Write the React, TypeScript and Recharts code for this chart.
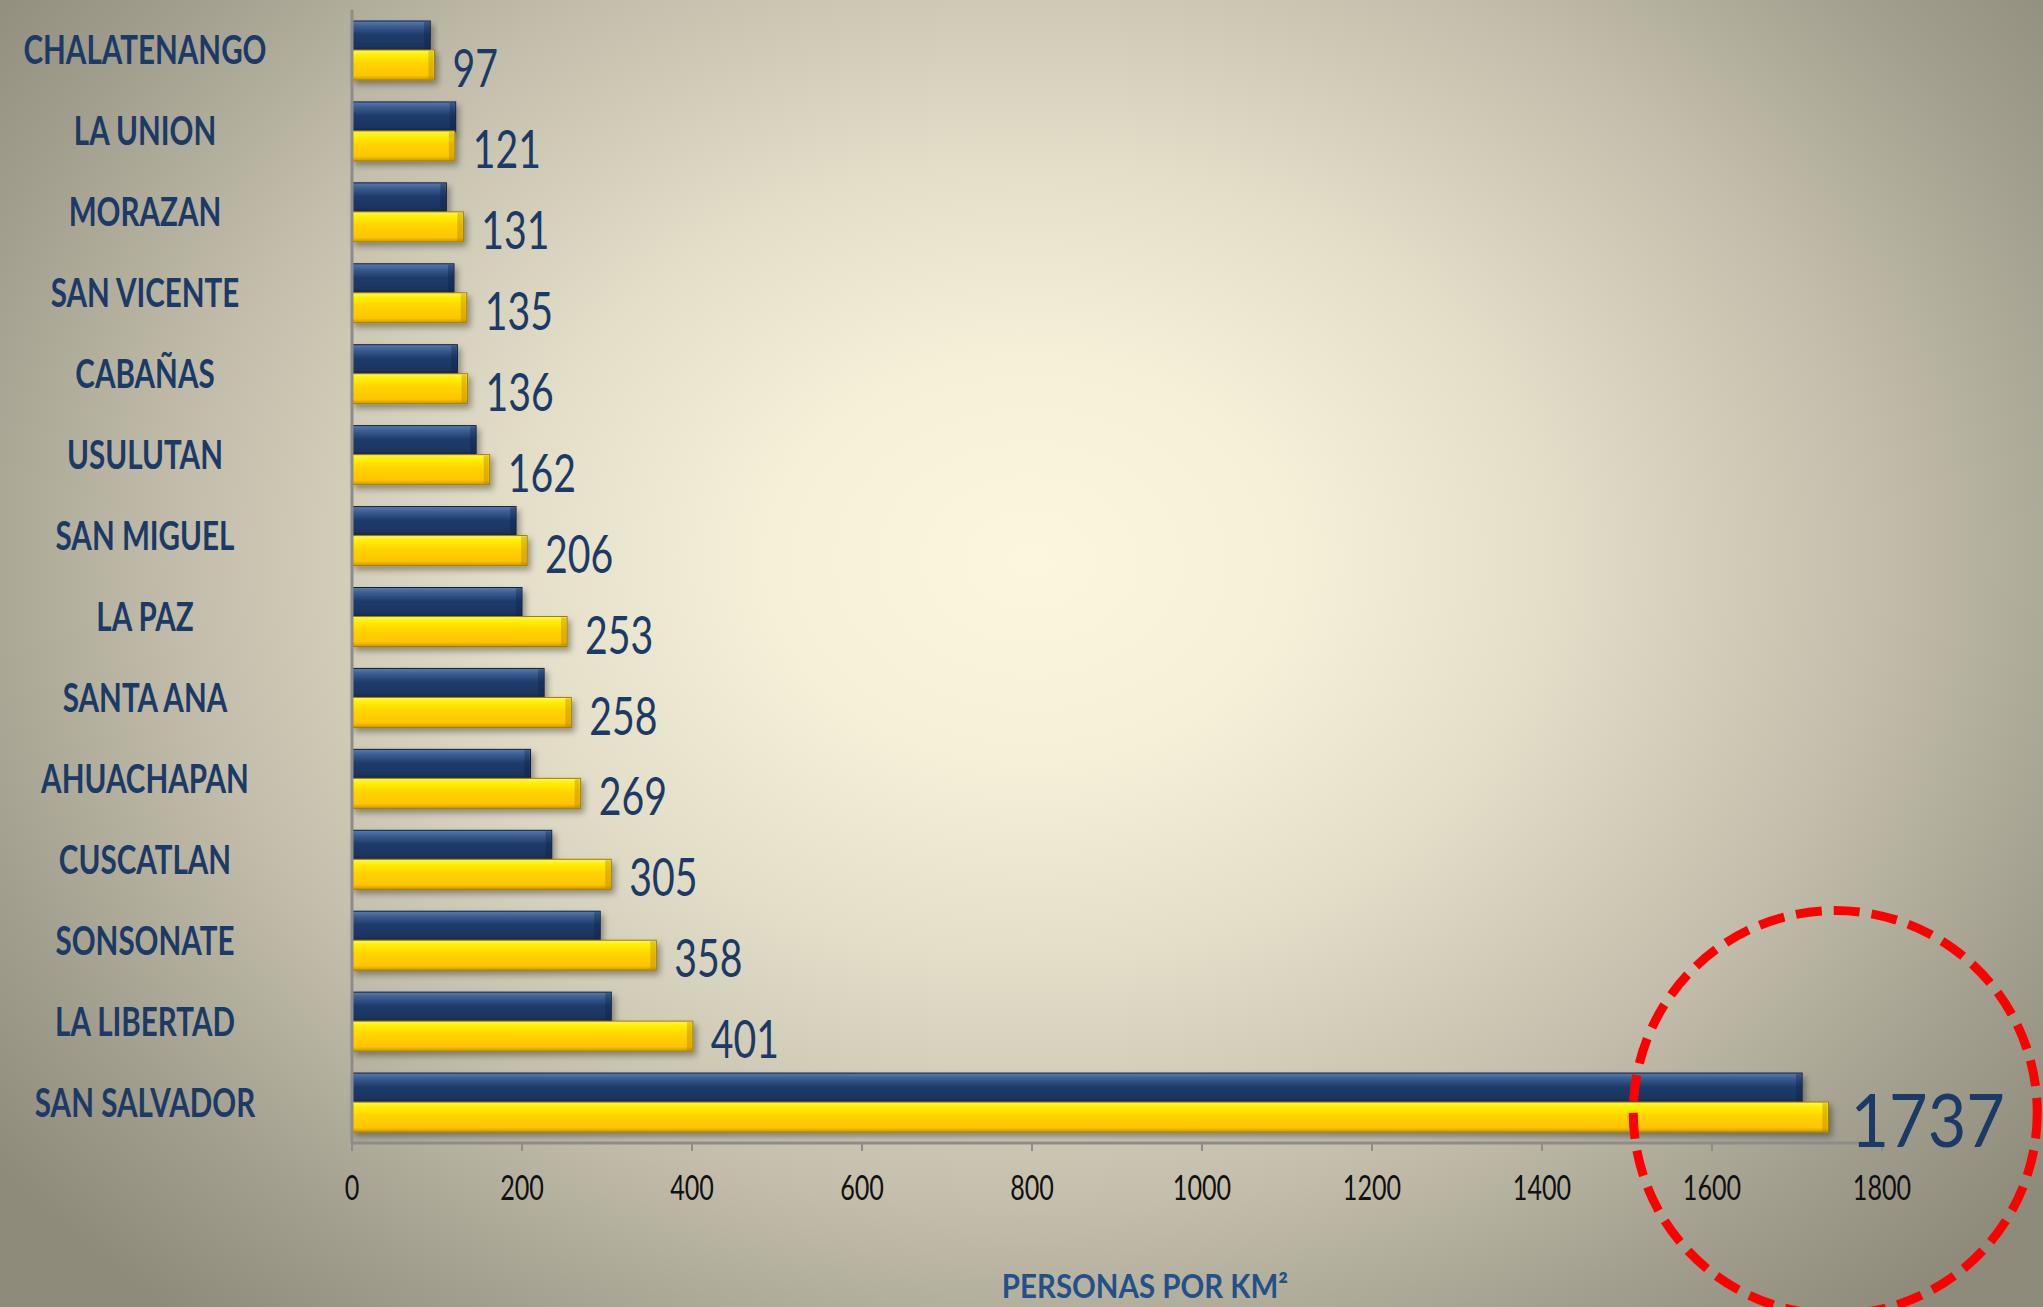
import { BarChart, Bar, XAxis, YAxis, LabelList, ReferenceDot } from "recharts";

const departments = [
  "CHALATENANGO",
  "LA UNION",
  "MORAZAN",
  "SAN VICENTE",
  "CABAÑAS",
  "USULUTAN",
  "SAN MIGUEL",
  "LA PAZ",
  "SANTA ANA",
  "AHUACHAPAN",
  "CUSCATLAN",
  "SONSONATE",
  "LA LIBERTAD",
  "SAN SALVADOR",
];

// earlier density (navy, no labels)
const densityBefore = [92, 122, 111, 120, 124, 146, 193, 200, 226, 210, 235, 292, 305, 1706];
// current density (yellow, labelled)
const densityNow = [97, 121, 131, 135, 136, 162, 206, 253, 258, 269, 305, 358, 401, 1737];

const xTicks = [0, 200, 400, 600, 800, 1000, 1200, 1400, 1600, 1800];

// red dashed highlight around the biggest value
const highlight = { category: "SAN SALVADOR", value: 1745 };

const data = departments.map((name, i) => ({
  name,
  before: densityBefore[i],
  now: densityNow[i],
}));

const NAVY = "#1c3a66";
const FONT = "Lato, 'Open Sans', sans-serif";

const CategoryTick = (props: any) => {
  const { y, payload } = props;
  return (
    <text
      transform={`translate(145, ${y + 14}) scale(0.74, 1)`}
      textAnchor="middle"
      fontFamily={FONT}
      fontWeight={700}
      fontSize={40}
      fill={NAVY}
    >
      {payload.value}
    </text>
  );
};

const ValueTick = (props: any) => {
  const { x, y, payload } = props;
  return (
    <text
      transform={`translate(${x}, ${y + 47}) scale(0.74, 1)`}
      textAnchor="middle"
      fontFamily={FONT}
      fontSize={34}
      fill="#111"
    >
      {payload.value}
    </text>
  );
};

const ValueLabel = (props: any) => {
  const box = props.viewBox ?? props;
  const { x, y, width, height } = box;
  const big = props.value > 1000;
  const size = big ? 74 : 53;
  const sx = big ? 0.9 : 0.74;
  return (
    <text
      transform={`translate(${x + width + (big ? 22 : 18)}, ${y + height / 2 + size * 0.36 + 3}) scale(${sx}, 1)`}
      fontFamily={FONT}
      fontSize={size}
      fill={NAVY}
    >
      {props.value}
    </text>
  );
};

const AxisTitle = (props: any) => {
  const { x, y, width, height } = props.viewBox;
  return (
    <text
      transform={`translate(${x + width / 2 + 28}, ${y + height - 9}) scale(0.92, 1)`}
      textAnchor="middle"
      fontFamily={FONT}
      fontWeight={700}
      fontSize={32}
      fill="#24508a"
    >
      PERSONAS POR KM²
    </text>
  );
};

const GlossyBar = (gradId: string, edge: string) => (props: any) => {
  const { x, y, width, height } = props;
  if (!width || width <= 0) return null;
  return (
    <g filter="url(#barShadow)">
      <rect x={x} y={y} width={width} height={height} fill={`url(#${gradId})`} stroke={edge} strokeWidth={1} />
      <rect x={x + width - 6} y={y + 1} width={5} height={height - 2} fill={edge} opacity={0.35} />
    </g>
  );
};

const HighlightCircle = (props: any) => (
  <circle
    cx={props.cx}
    cy={props.cy + 10}
    r={202}
    fill="none"
    stroke="#ff0000"
    strokeWidth={9}
    strokeDasharray="26 12"
  />
);

const DensityChart = () => {
  return (
    <div
      style={{
        position: "absolute",
        left: 0,
        top: 0,
        width: 2043,
        height: 1307,
        background:
          "radial-gradient(ellipse 1300px 1000px at 1030px 560px, #fbf6dd 0%, #f5f0d8 20%, #e3dec8 40%, #c3beab 65%, #a29f8e 85%, #8e8b7b 100%)",
        overflow: "hidden",
      }}
    >
      <BarChart
        width={2043}
        height={1307}
        data={data}
        layout="vertical"
        margin={{ top: 10, right: 161, bottom: 0, left: 0 }}
        barSize={30}
        barGap={-1}
      >
        <defs>
          <linearGradient id="navyGrad" x1="0" y1="0" x2="0" y2="1">
            <stop offset="0%" stopColor="#5a7bb0" />
            <stop offset="18%" stopColor="#3b5c90" />
            <stop offset="45%" stopColor="#1f3c6c" />
            <stop offset="85%" stopColor="#1a345f" />
            <stop offset="100%" stopColor="#10244a" />
          </linearGradient>
          <linearGradient id="yellowGrad" x1="0" y1="0" x2="0" y2="1">
            <stop offset="0%" stopColor="#fff56a" />
            <stop offset="15%" stopColor="#fff000" />
            <stop offset="45%" stopColor="#ffd400" />
            <stop offset="85%" stopColor="#ffc400" />
            <stop offset="100%" stopColor="#c99a00" />
          </linearGradient>
          <filter id="barShadow" x="-5%" y="-20%" width="115%" height="160%">
            <feDropShadow dx="3" dy="4" stdDeviation="3" floodColor="#000" floodOpacity="0.35" />
          </filter>
        </defs>
        <XAxis
          type="number"
          domain={[0, 1800]}
          ticks={xTicks}
          height={164}
          axisLine={{ stroke: "#8c8c8c", strokeWidth: 3 }}
          tickLine={{ stroke: "#8c8c8c", strokeWidth: 2 }}
          tickSize={8}
          tick={<ValueTick />}
          label={<AxisTitle />}
        />
        <YAxis
          type="category"
          dataKey="name"
          width={352}
          axisLine={{ stroke: "#8c8c8c", strokeWidth: 3 }}
          tickLine={false}
          tick={<CategoryTick />}
          interval={0}
        />
        <Bar dataKey="before" isAnimationActive={false} shape={GlossyBar("navyGrad", "#0e2042")} />
        <Bar dataKey="now" isAnimationActive={false} shape={GlossyBar("yellowGrad", "#a67c00")}>
          <LabelList dataKey="now" content={<ValueLabel />} />
        </Bar>
        <ReferenceDot
          x={highlight.value}
          y={highlight.category}
          r={202}
          ifOverflow="visible"
          shape={<HighlightCircle />}
        />
      </BarChart>
    </div>
  );
};

export default function App() {
  return <DensityChart />;
}
